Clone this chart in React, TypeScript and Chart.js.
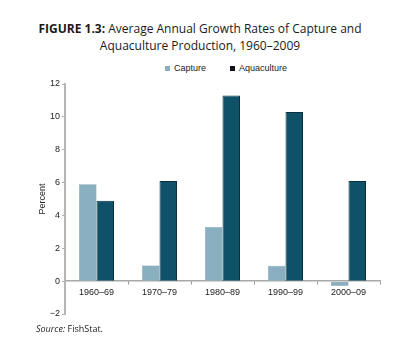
import React, { useEffect, useRef } from "react";
import { Chart, registerables } from "chart.js";

Chart.register(...registerables);

const categories = ["1960–69", "1970–79", "1980–89", "1990–99", "2000–09"];
const captureValues = [5.9, 0.95, 3.3, 0.93, -0.3];
const aquacultureValues = [4.9, 6.1, 11.3, 10.3, 6.1];
const seriesNames = ["Capture", "Aquaculture"];
const seriesColors = ["#8aafc0", "#0e5169"];
const yMin = -2;
const yMax = 12;
const yStep = 2;

export default function App() {
  const ref = useRef<HTMLCanvasElement | null>(null);

  useEffect(() => {
    if (!ref.current) return;
    const chart = new Chart(ref.current, {
      type: "bar",
      data: {
        labels: categories,
        datasets: [
          {
            label: seriesNames[0],
            data: captureValues,
            backgroundColor: seriesColors[0],
            borderColor: "#6f93a4",
            borderWidth: 0.5,
            barPercentage: 1,
            categoryPercentage: 0.556,
          },
          {
            label: seriesNames[1],
            data: aquacultureValues,
            backgroundColor: seriesColors[1],
            borderColor: "#08303e",
            borderWidth: 1,
            barPercentage: 1,
            categoryPercentage: 0.556,
          },
        ],
      },
      options: {
        animation: false,
        responsive: false,
        maintainAspectRatio: false,
        layout: { padding: { left: 0, right: 20, top: 84, bottom: 35 } },
        plugins: {
          legend: { display: false },
          tooltip: { enabled: false },
        },
        scales: {
          x: {
            position: { y: 0 } as any,
            offset: true,
            grid: {
              offset: true,
              drawOnChartArea: false,
              drawTicks: true,
              tickLength: 3,
              color: "#9a9a9a",
            },
            border: { display: true, color: "#a8a8a8", width: 1.5 },
            ticks: {
              font: { family: "Liberation Sans", size: 9 },
              color: "#222",
              padding: 3,
              maxRotation: 0,
            },
          },
          y: {
            min: yMin,
            max: yMax,
            afterFit: (scale: any) => {
              scale.width = 65;
            },
            ticks: {
              stepSize: yStep,
              font: { family: "Liberation Sans", size: 9 },
              color: "#222",
              padding: 2,
              callback: (v: any) => (Number(v) < 0 ? "−" + Math.abs(Number(v)) : String(v)),
            },
            grid: {
              drawOnChartArea: false,
              drawTicks: true,
              tickLength: 3,
              color: "#b0b0b0",
            },
            border: { display: true, color: "#b5b5b5", width: 2 },
            title: {
              display: true,
              text: "Percent",
              font: { family: "Liberation Sans", size: 9 },
              color: "#222",
              padding: { top: 37, bottom: 0 },
            },
          },
        },
      },
    });
    return () => chart.destroy();
  }, []);

  const legendItem = (name: string, color: string, left: number) => (
    <div
      style={{
        position: "absolute",
        left,
        top: 63,
        display: "flex",
        alignItems: "center",
        fontFamily: "Liberation Sans",
        fontSize: 9,
        color: "#222",
        whiteSpace: "nowrap",
      }}
    >
      <span
        style={{
          display: "inline-block",
          width: 5,
          height: 5,
          background: color,
          marginRight: 4,
        }}
      />
      {name}
    </div>
  );

  return (
    <div
      style={{
        position: "fixed",
        left: 0,
        top: 0,
        width: 400,
        height: 349,
        background: "#fff",
        overflow: "hidden",
      }}
    >
      <div
        style={{
          position: "absolute",
          left: 0,
          top: 20,
          width: 400,
          textAlign: "center",
          fontFamily: "Open Sans",
          fontSize: 12,
          lineHeight: "17px",
          color: "#1a1a1a",
        }}
      >
        <div>
          <b>FIGURE 1.3:</b> Average Annual Growth Rates of Capture and
        </div>
        <div>Aquaculture Production, 1960–2009</div>
      </div>
      {legendItem(seriesNames[0], seriesColors[0], 165)}
      {legendItem(seriesNames[1], "#111", 230)}
      <canvas
        ref={ref}
        width={400}
        height={349}
        style={{ position: "absolute", left: 0, top: 0, width: 400, height: 349 }}
      />
      <div
        style={{
          position: "absolute",
          left: 36,
          top: 322,
          fontFamily: "Open Sans",
          fontSize: 9,
          color: "#222",
        }}
      >
        <i>Source:</i> FishStat.
      </div>
    </div>
  );
}
